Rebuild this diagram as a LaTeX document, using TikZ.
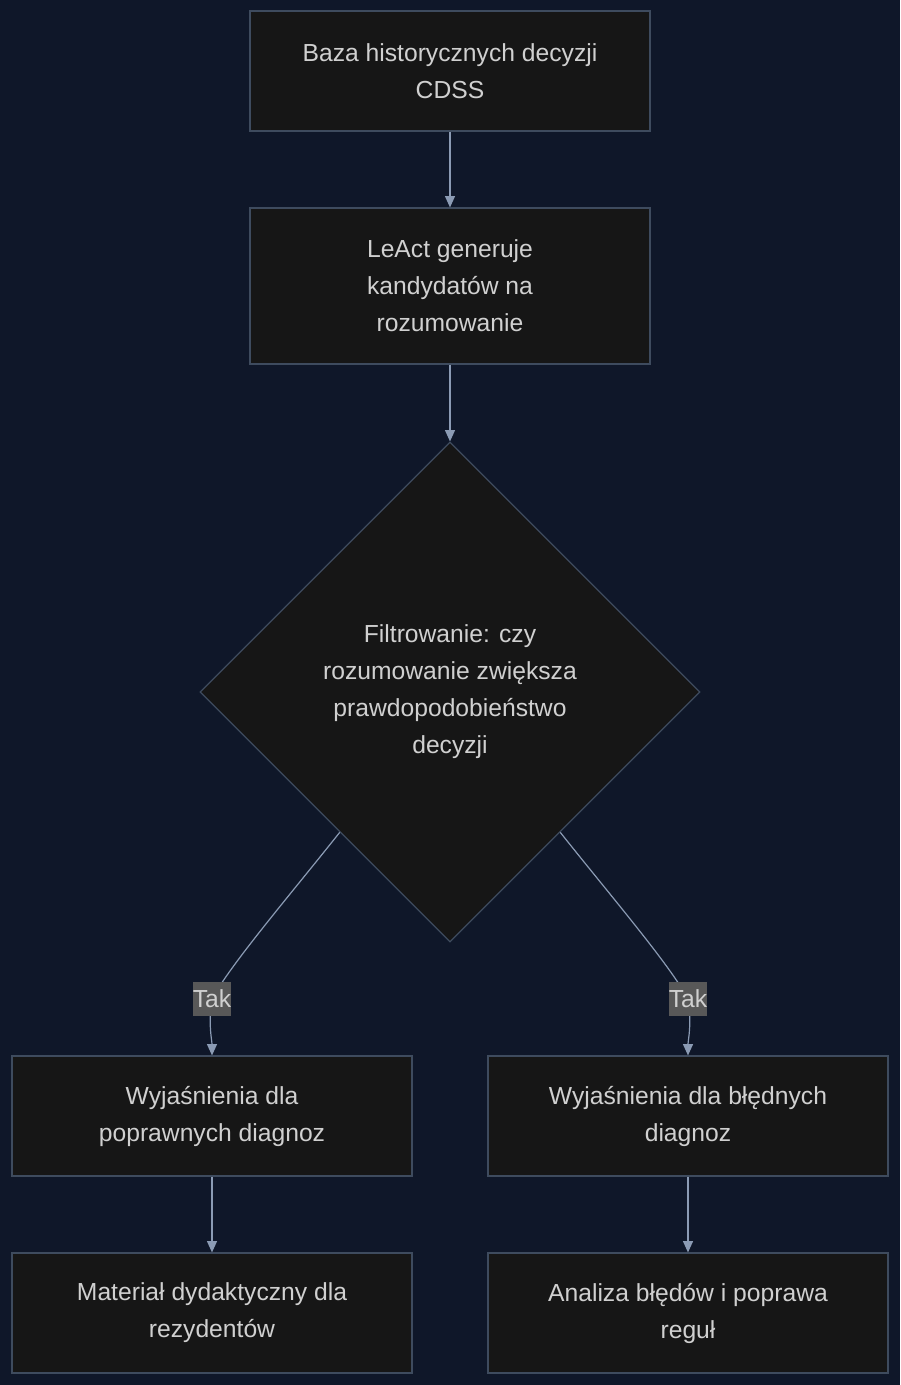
\documentclass[tikz,border=0pt]{standalone}
\usepackage{fontspec}
\setmainfont{Liberation Sans}
\usepackage{tikz}
\usetikzlibrary{arrows.meta,shapes.geometric,calc}
\definecolor{BgNavy}{HTML}{0F1729}
\definecolor{NodeFill}{HTML}{161616}
\definecolor{NodeLine}{HTML}{3E4B5E}
\definecolor{EdgeGray}{HTML}{8B9BB4}
\definecolor{TextLight}{HTML}{D0D0D0}
\definecolor{LabelFill}{HTML}{585858}

\begin{document}
\begin{tikzpicture}[x=0.75pt,y=-0.75pt,
    box/.style={draw=NodeLine, fill=NodeFill, line width=0.9pt, text=TextLight,
      minimum width=300pt, minimum height=90pt, align=center,
      font=\fontsize{18.5}{27.75}\selectfont},
    decision/.style={diamond, draw=NodeLine, fill=NodeFill, line width=0.9pt,
      text=TextLight, minimum width=375pt, minimum height=375pt, inner sep=0pt,
      align=center, font=\fontsize{18.5}{27.75}\selectfont},
    edge/.style={draw=EdgeGray, line width=0.9pt,
      -{Triangle[length=8.5pt,width=7.5pt]}},
    taklab/.style={fill=LabelFill, text=TextLight, inner xsep=0pt, inner ysep=0pt,
      minimum height=26pt, minimum width=28.5pt,
      font=\fontsize{18.5}{20}\selectfont}]

  \fill[BgNavy] (0,0) rectangle (900,1385);
  \useasboundingbox (0,0) rectangle (900,1385);

  % glowny przeplyw
  \node[box] (baza) at (450,71) {Baza historycznych decyzji\\CDSS};
  \node[box, minimum height=117pt] (leact) at (450,286)
    {LeAct generuje\\kandydatów na\\rozumowanie};
  \node[decision] (filtr) at (450,692)
    {Filtrowanie: czy\\rozumowanie zwiększa\\prawdopodobieństwo\\decyzji};

  % dwie galezie
  \node[box] (popr) at (212,1116) {Wyjaśnienia dla\\poprawnych diagnoz};
  \node[box] (bled) at (688,1116) {Wyjaśnienia dla błędnych\\diagnoz};
  \node[box] (mat) at (212,1313) {Materiał dydaktyczny dla\\rezydentów};
  \node[box] (anal) at (688,1313) {Analiza błędów i poprawa\\reguł};

  \draw[edge] (baza) -- (leact);
  \draw[edge] (leact) -- (filtr.north);

  \coordinate (outL) at ($(filtr.west)!0.56!(filtr.south)$);
  \coordinate (outR) at ($(filtr.east)!0.56!(filtr.south)$);
  \coordinate (takL) at (212,999);
  \coordinate (takR) at (688,999);

  \draw[edge] (outL) .. controls (290,895) and (230,965) .. (takL)
    .. controls (208,1025) and (212,1040) .. (popr.north);
  \draw[edge] (outR) .. controls (610,895) and (670,965) .. (takR)
    .. controls (692,1025) and (688,1040) .. (bled.north);

  \node[taklab] (labL) at (takL) {Tak};
  \node[taklab] (labR) at (takR) {Tak};

  \draw[edge] (popr) -- (mat);
  \draw[edge] (bled) -- (anal);
\end{tikzpicture}
\end{document}
